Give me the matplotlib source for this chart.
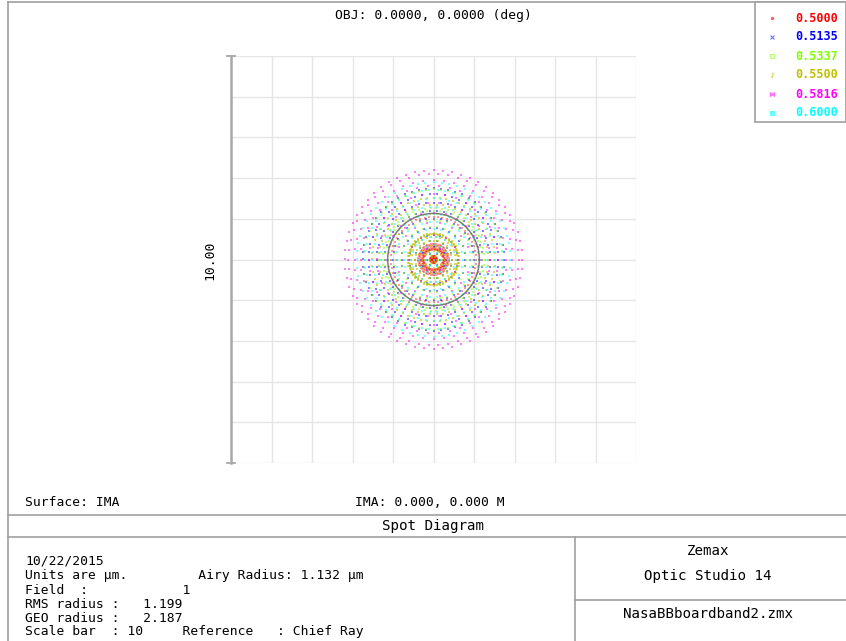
import numpy as np
import matplotlib
matplotlib.use("Agg")
import matplotlib.pyplot as plt

# wavelengths (um) and their display colours
wavelengths = ["0.5000", "0.5135", "0.5337", "0.5500", "0.5816", "0.6000"]
colors = ["#ff0000", "#0000ff", "#80ff00", "#c0c000", "#ff00ff", "#00ffff"]
legend_markers = [".", "x", "s", "$I$", "$\\bowtie$", "s"]

# image-plane radius (um) of each hexapolar pupil ring (rings 1..10)
ring_r_500 = [0.02, 0.04, 0.07, 0.09, 0.24, 0.26, 0.28, 0.34, 0.38, 1.05]
ring_r_5135 = [0.15, 0.30, 0.45, 0.60, 0.79, 1.00, 1.20, 1.40, 1.60, 1.75]
ring_r_5337 = [0.12, 0.28, 0.45, 0.62, 0.80, 0.97, 1.12, 1.20, 1.26, 1.72]
ring_r_550 = [0.08, 0.20, 0.33, 0.46, 0.55, 0.60, 0.62, 0.64, 1.35, 1.52]
ring_r_5816 = [0.30, 0.60, 0.90, 1.15, 1.40, 1.60, 1.80, 1.95, 2.10, 2.187]
ring_r_600 = [0.18, 0.36, 0.55, 0.74, 0.93, 1.12, 1.30, 1.50, 1.70, 1.90]
ring_radii = [ring_r_500, ring_r_5135, ring_r_5337, ring_r_550, ring_r_5816, ring_r_600]

airy_radius = 1.132
scale_bar = 10.0

info_lines = ["10/22/2015",
              "Units are \u00b5m.         Airy Radius: 1.132 \u00b5m",
              "Field  :            1",
              "RMS radius :   1.199",
              "GEO radius :   2.187",
              "Scale bar  : 10     Reference   : Chief Ray"]

W, H = 846, 641
fig = plt.figure(figsize=(W / 100, H / 100), dpi=100)
mono = "DejaVu Sans Mono"
fs = 9.4
line_c = "#a0a0a0"

# spot diagram axes
ax = fig.add_axes([231 / W, 1 - 463 / H, 405 / W, 407 / H])
half = scale_bar / 2
ax.set_xlim(-half, half)
ax.set_ylim(-half, half)
for v in np.arange(-half, half + 0.01, 1.0):
    ax.axvline(v, color="#e6e6e6", lw=1, zorder=0)
    ax.axhline(v, color="#e6e6e6", lw=1, zorder=0)
for s in ax.spines.values():
    s.set_visible(False)
ax.set_xticks([])
ax.set_yticks([])

def hexapolar(radii):
    xs, ys = [0.0], [0.0]
    for i, r in enumerate(radii, start=1):
        n = 6 * i
        t = np.arange(n) * 2 * np.pi / n
        xs.extend(r * np.cos(t))
        ys.extend(r * np.sin(t))
    return np.array(xs), np.array(ys)

alphas = [0.4, 0.5, 0.5, 0.6, 0.5, 0.5]
for radii, c, a in zip(ring_radii, colors, alphas):
    x, y = hexapolar(radii)
    ax.scatter(x, y, s=2.2, marker="s", color=c, alpha=a, linewidths=0, zorder=3)

t = np.linspace(0, 2 * np.pi, 300)
ax.plot(airy_radius * np.cos(t), airy_radius * np.sin(t), color="#606060", lw=1.1, alpha=0.8, zorder=4)

# scale bar on the left edge
ax.plot([-half, -half], [-half, half], color="#a8a8a8", lw=1.8, clip_on=False, zorder=5)
ax.plot([-half - 0.1, -half + 0.1], [half, half], color="#a8a8a8", lw=1.3, clip_on=False)
ax.plot([-half - 0.1, -half + 0.1], [-half, -half], color="#a8a8a8", lw=1.3, clip_on=False)

# overlay in pixel coordinates for frame, texts and legend
ov = fig.add_axes([0, 0, 1, 1], facecolor="none")
ov.set_xlim(0, W)
ov.set_ylim(H, 0)
ov.axis("off")

def hline(y, x0, x1):
    ov.plot([x0, x1], [y, y], color=line_c, lw=1.2)

def vline(x, y0, y1):
    ov.plot([x, x], [y0, y1], color=line_c, lw=1.2)

hline(2, 8, W)
vline(8, 2, H)
hline(515, 8, W)
hline(537, 8, W)
vline(575, 537, H)
hline(600, 575, W)

ov.text(433, 16, "OBJ: 0.0000, 0.0000 (deg)", family=mono, fontsize=fs, ha="center", va="center")
ov.text(210, 260, "%.2f" % scale_bar, family=mono, fontsize=fs, ha="center", va="center", rotation=90)
ov.text(25, 503, "Surface: IMA", family=mono, fontsize=fs, ha="left", va="center")
ov.text(430, 503, "IMA: 0.000, 0.000 M", family=mono, fontsize=fs, ha="center", va="center")
ov.text(433, 526, "Spot Diagram", family=mono, fontsize=10.2, ha="center", va="center")

ys = [561, 576, 590, 604, 618, 632]
for y, s in zip(ys, info_lines):
    ov.text(25, y, s, family=mono, fontsize=fs, ha="left", va="center")

ov.text(708, 551, "Zemax", family=mono, fontsize=10.2, ha="center", va="center")
ov.text(708, 576, "Optic Studio 14", family=mono, fontsize=10.2, ha="center", va="center")
ov.text(708, 614, "NasaBBboardband2.zmx", family=mono, fontsize=10.2, ha="center", va="center")

# legend box
ov.add_patch(plt.Rectangle((755, 2), W - 755, 120, facecolor="white", edgecolor=line_c, lw=1.2, zorder=6))
for i, (wl, c, m) in enumerate(zip(wavelengths, colors, legend_markers)):
    y = 18 + i * 19
    ov.plot([772], [y], marker=m, color=c, ms=3.2, mew=0.8,
            mfc=c if i in (0, 5) else "none", alpha=0.55, zorder=7)
    ov.text(795, y, wl, family=mono, fontsize=8.5, fontweight="bold", color=c, ha="left", va="center", zorder=7)

fig.savefig("out.png", dpi=100)
